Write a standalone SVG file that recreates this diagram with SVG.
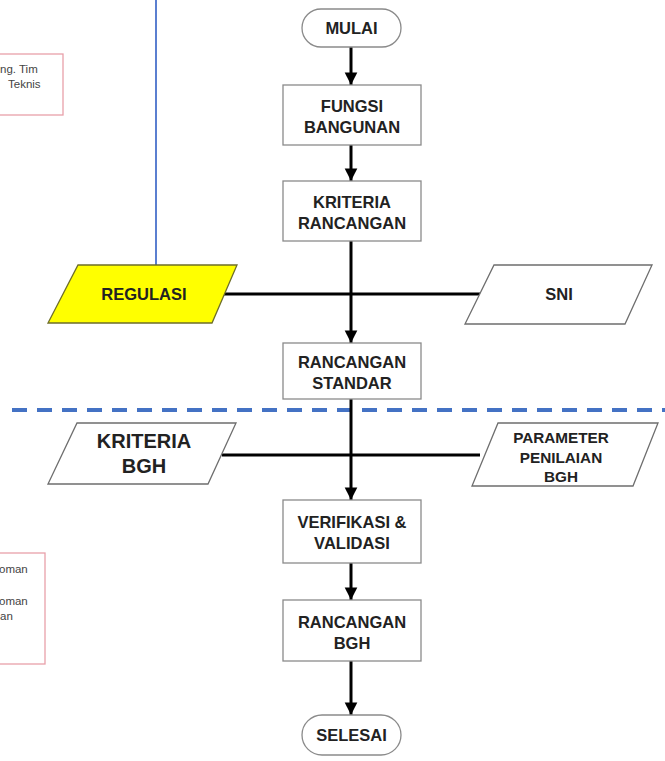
<svg xmlns="http://www.w3.org/2000/svg" width="665" height="761" viewBox="0 0 665 761">
<defs>
<style>
.box{fill:#fff;stroke:#8a8a8a;stroke-width:1.3}
.para{fill:#fff;stroke:#6e6e6e;stroke-width:1.3}
.yel{fill:#ffff00;stroke:#6e6e2a;stroke-width:1.3}
.t{font-family:"Liberation Sans",Arial,sans-serif;font-weight:bold;font-size:16.5px;fill:#222;text-anchor:middle}
.tb{font-family:"Liberation Sans",Arial,sans-serif;font-weight:bold;font-size:20px;fill:#222;text-anchor:middle}
.tp{font-family:"Liberation Sans",Arial,sans-serif;font-weight:bold;font-size:15.3px;fill:#222;text-anchor:middle}
.note{fill:#fff;stroke:#e8a0aa;stroke-width:1.3}
.nt{font-family:"Liberation Sans",Arial,sans-serif;font-size:11.5px;fill:#444}
.c{stroke:#000;stroke-width:3;fill:none}
</style>
<marker id="ah" viewBox="0 0 10 10" refX="10" refY="5" markerWidth="4.2" markerHeight="5" markerUnits="strokeWidth" orient="auto">
<path d="M0,0 L10,5 L0,10 Z" fill="#000"/>
</marker>
</defs>
<rect width="665" height="761" fill="#fff"/>

<g id="note1">
<rect class="note" x="-10" y="54" width="73" height="61"/>
<text class="nt" x="0" y="73">ng. Tim</text>
<text class="nt" x="8" y="88">Teknis</text>
</g>
<g id="note2">
<rect class="note" x="-10" y="553" width="55" height="111"/>
<text class="nt" x="-1" y="573">oman</text>
<text class="nt" x="-1" y="605">oman</text>
<text class="nt" x="0" y="620">an</text>
</g>

<g id="lines-blue">
<line x1="156" y1="0" x2="156" y2="265" stroke="#5b7fd0" stroke-width="2"/>
<line x1="12" y1="410" x2="665" y2="410" stroke="#4472c4" stroke-width="4" stroke-dasharray="15,10"/>
</g>

<g id="connectors">
<line class="c" x1="351" y1="47" x2="351" y2="85" marker-end="url(#ah)"/>
<line class="c" x1="351" y1="145" x2="351" y2="181" marker-end="url(#ah)"/>
<line class="c" x1="351" y1="241" x2="351" y2="343" marker-end="url(#ah)"/>
<line class="c" x1="222" y1="294" x2="482" y2="294"/>
<line class="c" x1="351" y1="399" x2="351" y2="500" marker-end="url(#ah)"/>
<line class="c" x1="222" y1="455" x2="480" y2="455"/>
<line class="c" x1="351" y1="563" x2="351" y2="600" marker-end="url(#ah)"/>
<line class="c" x1="351" y1="661" x2="351" y2="715" marker-end="url(#ah)"/>
</g>

<g id="mulai">
<rect class="box" x="302" y="9" width="99" height="38" rx="19"/>
<text class="t" x="351.5" y="34">MULAI</text>
</g>
<g id="fungsi">
<rect class="box" x="283" y="85" width="138" height="60"/>
<text class="t" x="352" y="112">FUNGSI</text>
<text class="t" x="352" y="133">BANGUNAN</text>
</g>
<g id="kriteria-rancangan">
<rect class="box" x="283" y="181" width="138" height="60"/>
<text class="t" x="352" y="208">KRITERIA</text>
<text class="t" x="352" y="229">RANCANGAN</text>
</g>
<g id="regulasi">
<polygon class="yel" points="78,265 237,265 212,323 48,323"/>
<text class="t" x="144" y="300">REGULASI</text>
</g>
<g id="sni">
<polygon class="para" points="494,265 652,265 625,324 465,324"/>
<text class="t" x="559" y="300">SNI</text>
</g>
<g id="rancangan-standar">
<rect class="box" x="283" y="343" width="138" height="56"/>
<text class="t" x="352" y="368">RANCANGAN</text>
<text class="t" x="352" y="389">STANDAR</text>
</g>
<g id="kriteria-bgh">
<polygon class="para" points="77,423 236,423 208,484 48,484"/>
<text class="tb" x="144" y="448">KRITERIA</text>
<text class="tb" x="144" y="473">BGH</text>
</g>
<g id="parameter">
<polygon class="para" points="498,423 658,423 633,486 472,486"/>
<text class="tp" x="561" y="443">PARAMETER</text>
<text class="tp" x="561" y="463">PENILAIAN</text>
<text class="tp" x="561" y="482">BGH</text>
</g>
<g id="verifikasi">
<rect class="box" x="283" y="500" width="138" height="63"/>
<text class="t" x="352" y="528">VERIFIKASI &amp;</text>
<text class="t" x="352" y="549">VALIDASI</text>
</g>
<g id="rancangan-bgh">
<rect class="box" x="283" y="600" width="138" height="61"/>
<text class="t" x="352" y="628">RANCANGAN</text>
<text class="t" x="352" y="649">BGH</text>
</g>
<g id="selesai">
<rect class="box" x="302" y="715" width="99" height="40" rx="20"/>
<text class="t" x="351.5" y="741">SELESAI</text>
</g>
</svg>
